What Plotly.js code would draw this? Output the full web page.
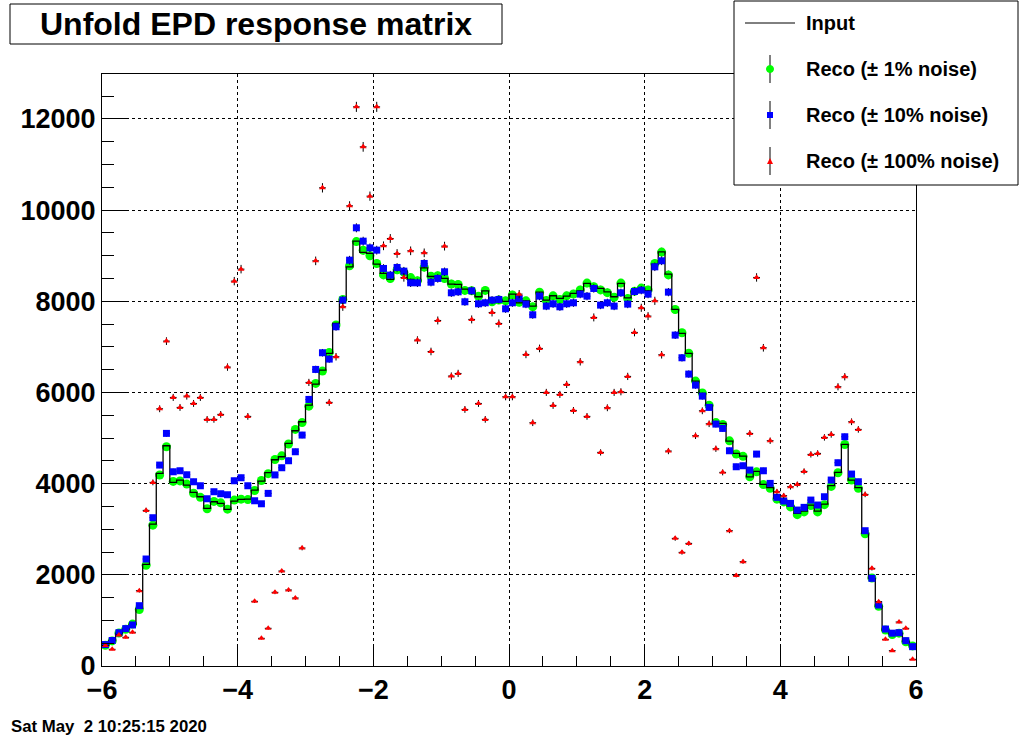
<!DOCTYPE html>
<html><head><meta charset="utf-8">
<script src="https://cdn.plot.ly/plotly-3.0.1.min.js"></script>
<style>html,body{margin:0;padding:0;background:#fff}#c{width:1020px;height:740px}</style>
</head><body><div id="c"></div>
<script>
// Histogram: 120 bins from -6 to 6
const xMin = -6, xMax = 6, nBins = 120;
const inputVals = [460,555,717,811,914,1265,2230,3114,4225,4832,4028,4079,3969,3808,3713,3458,3603,3567,3436,3618,
3655,3662,3860,4057,4240,4525,4590,4883,5161,5358,5724,6184,6491,6857,7515,8026,8757,9320,9072,9050,
8816,8612,8480,8684,8662,8480,8443,8735,8545,8539,8502,8377,8370,8268,8231,8100,8231,7990,8026,7998,
8158,7968,8011,7895,8202,8026,8122,8063,8114,8173,8231,8392,8326,8282,8209,8100,8392,8077,8224,8282,
8231,8816,9086,8597,7822,7296,6857,6250,5980,5724,5322,5322,4934,4664,4605,4151,4270,3984,3911,3677,
3589,3509,3348,3399,3531,3399,3553,3955,4247,4861,4079,3911,2909,1923,1316,789,702,716,533,446];
const reco1 = [455,550,725,805,920,1240,2210,3090,4190,4810,4050,4060,3990,3790,3700,3450,3610,3580,3440,3640,
3660,3650,3850,4070,4220,4530,4610,4870,5190,5340,5700,6200,6470,6880,7480,8040,8780,9310,9120,9000,
8830,8580,8500,8690,8640,8520,8450,8750,8550,8560,8500,8380,8370,8240,8230,8110,8240,7990,8030,8010,
8140,7980,8010,7880,8200,8020,8120,8040,8120,8160,8250,8400,8320,8250,8190,8090,8400,8060,8220,8290,
8250,8830,9080,8580,7820,7310,6860,6250,5990,5720,5340,5300,4940,4650,4600,4150,4260,3980,3900,3660,
3600,3490,3320,3380,3520,3380,3540,3940,4240,4860,4080,3900,2900,1930,1310,790,690,720,530,440];
const reco10 = [470,560,730,820,900,1323,2347,3253,4408,5103,4261,4283,4195,4042,3954,3669,3823,3779,3757,4064,
4130,3954,3625,3559,3787,4192,4349,4503,4700,5066,5848,6506,6872,6733,7442,8026,8903,9613,9320,9173,
9123,8721,8575,8743,8662,8406,8406,8831,8420,8502,8648,8187,8209,7990,8231,7946,7968,8026,8041,7836,
7968,8063,7939,7705,8114,7895,7946,7880,7946,7968,8158,8114,8282,7917,7968,7895,8187,7939,8216,8245,
8158,8757,8889,8202,7259,6762,6404,6162,5921,5673,5307,5212,4722,4371,4393,4298,4649,4283,4006,3700,
3620,3567,3421,3480,3640,3531,3713,4079,4459,5029,4211,4042,2968,1923,1338,811,720,731,556,424];
const reco100 = [450,366,680,629,739,1652,3414,4028,5643,7127,5892,5673,5921,5760,5892,5410,5410,5520,6557,8443,
8706,5476,1419,607,827,1616,2083,1667,1491,2588,6221,8888,10490,5783,6784,7880,10095,12266,11389,10307,
12266,9218,9379,9050,8524,9108,7149,9064,6900,7580,9211,6360,6418,5628,7603,5760,5410,7756,7515,5906,
5906,8158,6835,5336,6967,6002,5717,5958,6177,5607,6674,5476,7647,4686,5665,6002,6016,6353,7318,7858,
7676,8011,6827,4715,2800,2493,2690,5051,5599,5314,4766,4248,2968,1988,2288,5102,8524,6981,4942,3823,
3736,3933,3984,4269,4642,4664,5015,5080,6126,6345,5358,5190,3765,2142,1411,585,336,965,826,146];
const legendLabels = ["Input","Reco (\u00b1 1% noise)","Reco (\u00b1 10% noise)","Reco (\u00b1 100% noise)"];
const titleText = "Unfold EPD response matrix";
const dateText = "Sat May\u00a0\u00a02 10:25:15 2020";

const binW = (xMax - xMin) / nBins;
const centers = inputVals.map((_, i) => xMin + binW * (i + 0.5));
const edges = inputVals.map((_, i) => xMin + binW * i).concat([xMax]);
const stepY = inputVals.concat([inputVals[inputVals.length - 1]]);

// layout geometry (pixels)
const W = 1020, H = 740, L = 102, R = 104, T = 74, B = 74;
const pw = W - L - R, ph = H - T - B;
const px = v => (v - L) / pw;
const py = v => (H - B - v) / ph;

const FONT = "Liberation Sans, Arial, Helvetica, sans-serif";
const errX = {type:'constant', value: binW/2, color:'black', thickness:1, width:0};
const errY = {type:'sqrt', color:'black', thickness:1, width:0};

const traces = [
  {x: centers, y: reco1, type:'scatter', mode:'markers', name: legendLabels[1],
   marker:{symbol:'circle', size:9, color:'#00ff00'}, error_x: errX, error_y: errY, showlegend:false},
  {x: edges, y: stepY, type:'scatter', mode:'lines', name: legendLabels[0],
   line:{shape:'hv', color:'black', width:1.3}, showlegend:false},
  {x: centers, y: reco10, type:'scatter', mode:'markers', name: legendLabels[2],
   marker:{symbol:'square', size:7, color:'#0000ff'}, error_x: errX, error_y: errY, showlegend:false},
  {x: centers, y: reco100, type:'scatter', mode:'markers', name: legendLabels[3],
   marker:{symbol:'triangle-up', size:6, color:'#ff0000'}, error_x: errX, error_y: errY, showlegend:false}
];

const shapes = [];
const annotations = [];
// title box
shapes.push({type:'rect', xref:'paper', yref:'paper', x0:px(10), x1:px(502), y0:py(4), y1:py(44),
  line:{color:'black', width:1}, fillcolor:'white', layer:'above'});
annotations.push({xref:'paper', yref:'paper', x:px(256), y:py(24), text:titleText, showarrow:false,
  xanchor:'center', yanchor:'middle', font:{family:FONT, size:32, weight:'bold', color:'black'}});
// legend box
shapes.push({type:'rect', xref:'paper', yref:'paper', x0:px(734), x1:px(1018), y0:py(1), y1:py(185),
  line:{color:'black', width:1}, fillcolor:'white', layer:'above'});
const rows = [23, 69, 115, 161];
shapes.push({type:'line', xref:'paper', yref:'paper', x0:px(745), x1:px(795), y0:py(23), y1:py(23),
  line:{color:'black', width:1}, layer:'above'});
for (let k = 1; k < 4; k++) {
  shapes.push({type:'line', xref:'paper', yref:'paper', x0:px(770), x1:px(770), y0:py(rows[k]-14), y1:py(rows[k]+14),
    line:{color:'black', width:1}, layer:'above'});
}
shapes.push({type:'circle', xref:'paper', yref:'paper', x0:px(766.5), x1:px(773.5), y0:py(72.5), y1:py(65.5),
  line:{color:'#00ff00', width:1}, fillcolor:'#00ff00', layer:'above'});
shapes.push({type:'rect', xref:'paper', yref:'paper', x0:px(767), x1:px(773), y0:py(118), y1:py(112),
  line:{color:'#0000ff', width:0}, fillcolor:'#0000ff', layer:'above'});
shapes.push({type:'path', xref:'paper', yref:'paper',
  path:`M ${px(767)} ${py(164)} L ${px(773)} ${py(164)} L ${px(770)} ${py(158)} Z`,
  line:{color:'#ff0000', width:0}, fillcolor:'#ff0000', layer:'above'});
for (let k = 0; k < 4; k++) {
  annotations.push({xref:'paper', yref:'paper', x:px(804), y:py(rows[k]), text:legendLabels[k], showarrow:false,
    xanchor:'left', yanchor:'middle', font:{family:FONT, size:20, weight:'bold', color:'black'}});
}
annotations.push({xref:'paper', yref:'paper', x:px(9), y:py(726), text:dateText, showarrow:false,
  xanchor:'left', yanchor:'middle', font:{family:FONT, size:16.8, weight:'bold', color:'black'}});

const layout = {
  width: W, height: H, margin:{l:L, r:R, t:T, b:B, pad:0},
  paper_bgcolor:'white', plot_bgcolor:'white', showlegend:false,
  xaxis:{range:[xMin, xMax], dtick:2, tick0:0, ticks:'inside', ticklen:19, tickcolor:'black', tickwidth:1,
    showline:true, mirror:true, linecolor:'black', linewidth:1, zeroline:false,
    showgrid:true, gridcolor:'black', griddash:'dot', gridwidth:1,
    tickfont:{family:FONT, size:27, weight:'bold', color:'black'},
    minor:{dtick:0.5, ticks:'inside', ticklen:10, tickcolor:'black', showgrid:false}},
  yaxis:{range:[0, 12987], dtick:2000, tick0:0, tickformat:'d', ticks:'inside', ticklen:24, tickcolor:'black', tickwidth:1,
    showline:true, mirror:true, linecolor:'black', linewidth:1, zeroline:false,
    showgrid:true, gridcolor:'black', griddash:'dot', gridwidth:1,
    tickfont:{family:FONT, size:27, weight:'bold', color:'black'},
    minor:{dtick:500, ticks:'inside', ticklen:12, tickcolor:'black', showgrid:false}},
  shapes: shapes, annotations: annotations
};
Plotly.newPlot('c', traces, layout, {staticPlot:true, displayModeBar:false});
</script></body></html>
